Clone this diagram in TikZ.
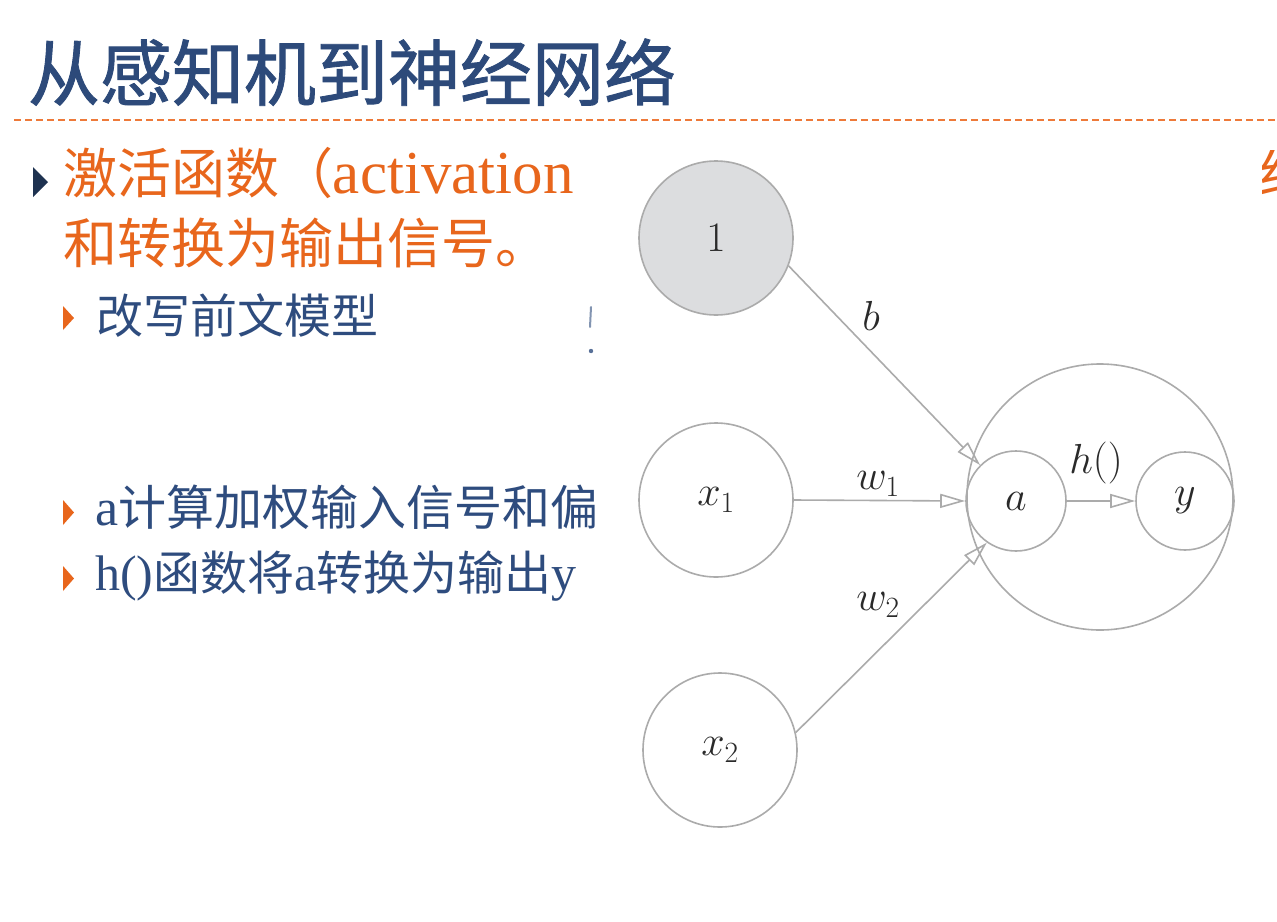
\RequirePackage{fix-cm}
\documentclass[tikz,border=0pt]{standalone}
\usepackage{fontspec}
\usetikzlibrary{arrows.meta}
\newfontfamily\cjkfont{Noto Sans CJK SC}
\newfontfamily\cjktitle[FakeBold=1.2]{Noto Sans CJK SC}
\newfontfamily\latfont{Liberation Serif}

\definecolor{titleblue}{HTML}{2D4A7A}
\definecolor{bodyblue}{HTML}{2E4C7E}
\definecolor{accent}{HTML}{E8661C}
\definecolor{rulecolor}{HTML}{EE7A3A}
\definecolor{navy}{HTML}{1E3250}
\definecolor{edgegray}{HTML}{ABABAB}
\definecolor{biasfill}{HTML}{DCDDDF}
\definecolor{labelink}{HTML}{2A2A2A}

\tikzset{
  textline/.style={anchor=base west, inner sep=0pt, outer sep=0pt},
  unit/.style={circle, draw=edgegray, line width=1.6pt, minimum size=154pt,
    inner sep=0pt, text=labelink, font=\fontsize{42}{48}\selectfont},
  link/.style={draw=edgegray, line width=1.6pt,
    -{Triangle[open, length=25pt, width=14pt, line width=1.6pt]}},
  lbl/.style={inner sep=0pt, text=labelink, font=\fontsize{42}{48}\selectfont},
  titlerule/.style={color=rulecolor, line width=2pt, dash pattern=on 7pt off 4pt},
}

\begin{document}
\begin{tikzpicture}[x=1pt, y=-1pt]
  \useasboundingbox[fill=white] (0,0) rectangle (1277,921);

  % slide title and rule
  \node[textline, text=titleblue, font=\cjktitle\fontsize{72}{80}\selectfont]
    (title) at (28,100) {从感知机到神经网络};
  \coordinate (ruleL) at (14,120);
  \coordinate (ruleR) at (1277,120);
  \draw[titlerule] (ruleL) -- (ruleR);

  % bullet markers
  \fill[navy] (33,167) -- (48,182) -- (33,197) -- cycle;
  \fill[accent] (63,306) -- (74,318) -- (63,330) -- cycle;
  \fill[accent] (63,500) -- (74,512.5) -- (63,525) -- cycle;
  \fill[accent] (63,566) -- (74,578.5) -- (63,591) -- cycle;

  % bullet texts
  \node[textline, text=accent, font=\cjkfont\fontsize{54}{60}\selectfont]
    (line1) at (63,193) {激活函数（{\latfont\fontsize{61}{66}\selectfont activation}};
  \node[textline, text=accent, font=\cjkfont\fontsize{54}{60}\selectfont]
    (line2) at (63,263) {和转换为输出信号。};
  \node[textline, text=bodyblue, font=\cjkfont\fontsize{47}{54}\selectfont]
    (sub1) at (96,333) {改写前文模型};
  \node[textline, text=bodyblue, font=\cjkfont\fontsize{48}{54}\selectfont]
    (sub2) at (95,525) {{\latfont\fontsize{52}{56}\selectfont a}计算加权输入信号和偏};
  \node[textline, text=bodyblue, font=\cjkfont\fontsize{47}{54}\selectfont]
    (sub3) at (95,590) {{\latfont\fontsize{50}{56}\selectfont h()}函数将{\latfont\fontsize{50}{56}\selectfont a}转换为输出{\latfont\fontsize{50}{56}\selectfont y}};

  % edge of the first line peeking out at the right border
  \begin{scope}
    \clip (1262,150) rectangle (1277,215);
    \node[textline, text=accent, font=\cjkfont\fontsize{54}{60}\selectfont]
      (line1tail) at (1259,193) {给};
  \end{scope}

  % small mark left of the figure
  \draw[bodyblue!60, line width=2pt, line cap=round] (591,307) -- (590,327);
  \fill[bodyblue!80] (591,351) circle (2.2pt);

  % neuron diagram
  \node[unit, minimum size=266pt] (neuron) at (1100,497) {};
  \node[unit, fill=biasfill] (one) at (716,238) {$1$};
  \node[unit] (x1) at (716,500) {$x_1$};
  \node[unit] (x2) at (720,750) {$x_2$};
  \node[unit, minimum size=100pt] (a) at (1016,501) {$a$};
  \node[unit, minimum size=98pt] (y) at (1185,501) {$y$};

  \draw[link] (one.-21) -- (a.135);
  \draw[link] (x1.east) -- (a.west);
  \draw[link] (x2.13) -- (a.-125);
  \draw[link] (a.east) -- (y.west);

  \node[lbl] (lb) at (871,316) {$b$};
  \node[lbl] (lw1) at (878,484) {$w_1$};
  \node[lbl] (lw2) at (878,605) {$w_2$};
  \node[lbl] (lh) at (1096,463) {$h()$};
\end{tikzpicture}
\end{document}
